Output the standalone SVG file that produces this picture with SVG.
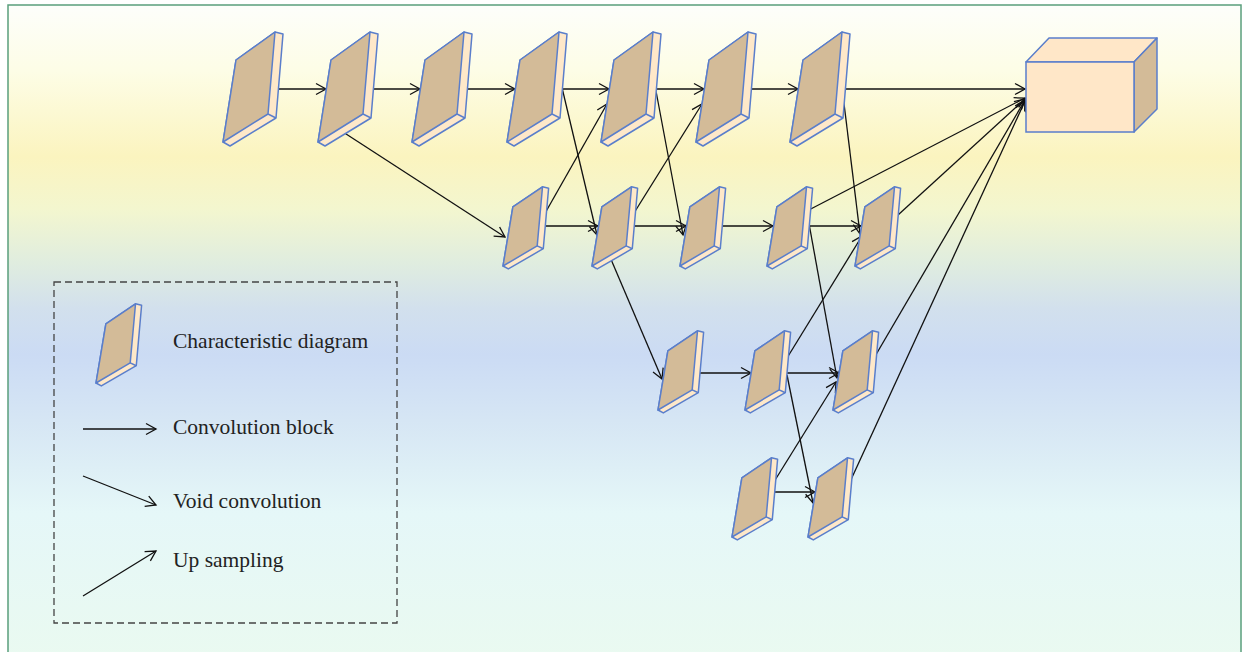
<svg xmlns="http://www.w3.org/2000/svg" xmlns:xlink="http://www.w3.org/1999/xlink" width="1243" height="652" viewBox="0 0 1243 652">
<style>
.face{fill:#d3bb98;stroke:#5a7ecb;stroke-width:1.5;stroke-linejoin:round;vector-effect:non-scaling-stroke}
.edge{fill:#fee8c9;stroke:#5a7ecb;stroke-width:1.5;stroke-linejoin:round;vector-effect:non-scaling-stroke}
.conn line{stroke:#111;stroke-width:1.3;fill:none;marker-end:url(#arr)}
.lbl{font-family:"Liberation Serif","Times New Roman",serif;font-size:21.5px;fill:#222}
</style>
<defs>
<linearGradient id="bg" x1="0" y1="0" x2="0" y2="1">
<stop offset="0" stop-color="#fdfefb"/>
<stop offset="0.1" stop-color="#fdfde6"/>
<stop offset="0.23" stop-color="#fbf4bf"/>
<stop offset="0.31" stop-color="#f3f6cf"/>
<stop offset="0.39" stop-color="#e0eddf"/>
<stop offset="0.46" stop-color="#d2e0ed"/>
<stop offset="0.53" stop-color="#cbdbf4"/>
<stop offset="0.63" stop-color="#d6e6f4"/>
<stop offset="0.77" stop-color="#e5f7f8"/>
<stop offset="1" stop-color="#eafaf0"/>
</linearGradient>
<marker id="arr" markerUnits="userSpaceOnUse" markerWidth="14" markerHeight="14" viewBox="-12 -7 14 14" refX="0" refY="0" orient="auto">
<path d="M-10,-5.5 L0,0 L-10,5.5" fill="none" stroke="#111" stroke-width="1.3"/>
</marker>
<g id="blk">
<path class="edge" d="M13,-82 L52,-110 L60,-108 L53,-24 L7,4 L0,0 Z"/>
<path class="face" d="M0,0 L13,-82 L52,-110 L45,-28 Z"/>
<path class="edge" d="M45,-28 L53,-24" fill="none"/>
</g>
</defs>
<rect x="0" y="0" width="1243" height="652" fill="#ffffff"/>
<rect x="8" y="5" width="1233" height="660" fill="url(#bg)" stroke="#5a9f7c" stroke-width="1.5"/>

<g id="connectors" class="conn">
<line x1="273" y1="89" x2="326" y2="89"/>
<line x1="368" y1="89" x2="420" y2="89"/>
<line x1="462" y1="89" x2="515" y2="89"/>
<line x1="557" y1="89" x2="609" y2="89"/>
<line x1="651" y1="89" x2="704" y2="89"/>
<line x1="745" y1="89" x2="798" y2="89"/>
<line x1="839" y1="89" x2="1025" y2="89"/>
<line x1="343" y1="132" x2="505" y2="237"/>
<line x1="543" y1="226" x2="598" y2="226"/>
<line x1="632" y1="226" x2="686" y2="226"/>
<line x1="720" y1="226" x2="773" y2="226"/>
<line x1="808" y1="226" x2="861" y2="226"/>
<line x1="544" y1="215" x2="607" y2="104"/>
<line x1="634" y1="213" x2="702" y2="104"/>
<line x1="559" y1="75" x2="597" y2="235"/>
<line x1="653" y1="75" x2="683" y2="235"/>
<line x1="841" y1="79" x2="860" y2="234"/>
<line x1="610" y1="257" x2="662" y2="379"/>
<line x1="803" y1="213" x2="1025" y2="98"/>
<line x1="898" y1="215" x2="1025" y2="99"/>
<line x1="808" y1="218" x2="837" y2="378"/>
<line x1="787" y1="358" x2="862" y2="236"/>
<line x1="697" y1="373" x2="751" y2="373"/>
<line x1="785" y1="373" x2="839" y2="373"/>
<line x1="787" y1="375" x2="813" y2="503"/>
<line x1="772" y1="485" x2="836" y2="382"/>
<line x1="773" y1="492" x2="815" y2="492"/>
<line x1="874" y1="358" x2="1025" y2="100"/>
<line x1="849" y1="484" x2="1025" y2="101"/>
</g>

<g id="top1"><use xlink:href="#blk" transform="translate(223,142)"/></g>
<g id="top2"><use xlink:href="#blk" transform="translate(318,142)"/></g>
<g id="top3"><use xlink:href="#blk" transform="translate(412,142)"/></g>
<g id="top4"><use xlink:href="#blk" transform="translate(507,142)"/></g>
<g id="top5"><use xlink:href="#blk" transform="translate(601,142)"/></g>
<g id="top6"><use xlink:href="#blk" transform="translate(696,142)"/></g>
<g id="top7"><use xlink:href="#blk" transform="translate(790,142)"/></g>

<g id="mid1"><use xlink:href="#blk" transform="translate(503,266) scale(0.76,0.72)"/></g>
<g id="mid2"><use xlink:href="#blk" transform="translate(592,266) scale(0.76,0.72)"/></g>
<g id="mid3"><use xlink:href="#blk" transform="translate(680,266) scale(0.76,0.72)"/></g>
<g id="mid4"><use xlink:href="#blk" transform="translate(767,266) scale(0.76,0.72)"/></g>
<g id="mid5"><use xlink:href="#blk" transform="translate(855,266) scale(0.76,0.72)"/></g>

<g id="low1"><use xlink:href="#blk" transform="translate(658,410) scale(0.76,0.72)"/></g>
<g id="low2"><use xlink:href="#blk" transform="translate(745,410) scale(0.76,0.72)"/></g>
<g id="low3"><use xlink:href="#blk" transform="translate(833,410) scale(0.76,0.72)"/></g>

<g id="bot1"><use xlink:href="#blk" transform="translate(732,537) scale(0.76,0.72)"/></g>
<g id="bot2"><use xlink:href="#blk" transform="translate(808,537) scale(0.76,0.72)"/></g>

<g id="output">
<path d="M1026,62 L1049,38 L1157,38 L1134,62 Z" fill="#ffe7c8" stroke="#5a7ecb" stroke-width="1.5" stroke-linejoin="round"/>
<path d="M1134,62 L1157,38 L1157,109 L1134,132 Z" fill="#d3bb98" stroke="#5a7ecb" stroke-width="1.5" stroke-linejoin="round"/>
<rect x="1026" y="62" width="108" height="70" fill="#ffe7c8" stroke="#5a7ecb" stroke-width="1.5"/>
</g>

<g id="legend">
<rect x="54" y="282" width="343" height="341" fill="none" stroke="#444" stroke-width="1.3" stroke-dasharray="7,4"/>
<use xlink:href="#blk" transform="translate(96,383) scale(0.76,0.72)"/>
<text class="lbl" x="173" y="348">Characteristic diagram</text>
<g class="conn">
<line x1="83" y1="429" x2="156" y2="429"/>
<line x1="83" y1="476" x2="156" y2="505"/>
<line x1="83" y1="596" x2="156" y2="551"/>
</g>
<text class="lbl" x="173" y="434">Convolution block</text>
<text class="lbl" x="173" y="508">Void convolution</text>
<text class="lbl" x="173" y="567">Up sampling</text>
</g>
</svg>
